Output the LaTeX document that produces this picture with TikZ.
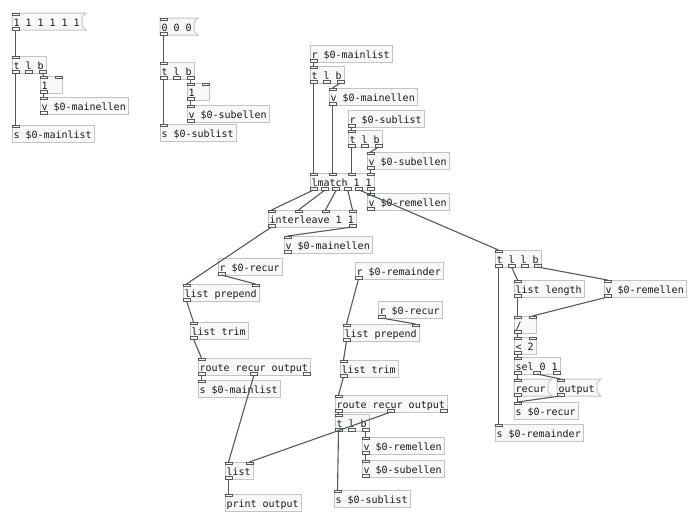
\documentclass[tikz,border=0pt]{standalone}
\usepackage{fontspec}
\newfontfamily\pdfont[WordSpace={1,0,0}]{DejaVu Sans Mono}
\definecolor{boxline}{RGB}{196,196,196}
\definecolor{boxfill}{RGB}{247,248,247}
\definecolor{wire}{RGB}{82,92,82}

\tikzset{
  pdbox/.style={draw=boxline, fill=boxfill, line width=1pt, rectangle, anchor=north west,
    inner xsep=1.5pt, inner ysep=0pt, outer sep=0pt, minimum height=17pt,
    text height=10pt, text depth=0pt, align=left, text=black!90,
    font=\pdfont\fontsize{10pt}{12pt}\selectfont},
  pdport/.style={draw=wire, fill=boxfill, line width=0.8pt},
  pdwire/.style={draw=wire, line width=1.1pt}
}

% inlets and outlets: name, x, y, width, inlets, outlets
\newcommand{\pdports}[6]{%
  \ifnum#5>0
    \foreach \k in {1,...,#5}{
      \pgfmathsetmacro{\px}{#2+(\k-1)*(#4-7)/max(#5-1,1)}
      \draw[pdport] (\px,#3) rectangle ++(7,2.5);
      \coordinate (#1-i\k) at (\px+3.5,#3);
    }
  \fi
  \ifnum#6>0
    \foreach \k in {1,...,#6}{
      \pgfmathsetmacro{\px}{#2+(\k-1)*(#4-7)/max(#6-1,1)}
      \draw[pdport] (\px,#3+14.5) rectangle ++(7,2.5);
      \coordinate (#1-o\k) at (\px+3.5,#3+17);
    }
  \fi
}
% object box: name, x, y, width, text, inlets, outlets
\newcommand{\pdobj}[7]{%
  \pgfmathsetmacro{\tw}{#4-3}
  \node[pdbox, text width=\tw pt] (#1) at (#2,#3) {\spaceskip=0pt\xspaceskip=0pt\relax#5};
  \pdports{#1}{#2}{#3}{#4}{#6}{#7}
}
% message box: name, x, y, width, text
\newcommand{\pdmsg}[5]{%
  \draw[draw=boxline, fill=boxfill, line width=1pt] (#2,#3) -- (#2+#4+4,#3) -- (#2+#4,#3+4)
    -- (#2+#4,#3+13) -- (#2+#4+4,#3+17) -- (#2,#3+17) -- cycle;
  \pgfmathsetmacro{\tw}{#4-3}
  \node[pdbox, draw=none, fill=none, text width=\tw pt] (#1) at (#2,#3) {\spaceskip=0pt\xspaceskip=0pt\relax#5};
  \pdports{#1}{#2}{#3}{#4}{1}{1}
}

\begin{document}
\begin{tikzpicture}[x=1pt, y=-1pt]
    \useasboundingbox[fill=white] (0,0) rectangle (695,517);

    % main list
    \pdmsg{mainmsg}{12}{13}{70}{1 1 1 1 1 1}
    \pdobj{maintrig}{12}{56}{34}{t l b}{1}{3}
    \pdobj{mainone}{40}{76}{22}{1}{2}{1}
    \pdobj{mainlen}{40}{97}{88}{v \$0-mainellen}{1}{1}
    \pdobj{mainsend}{12}{125}{82}{s \$0-mainlist}{1}{0}

    % sub list
    \pdmsg{submsg}{160}{18}{34}{0 0 0}
    \pdobj{subtrig}{160}{62}{34}{t l b}{1}{3}
    \pdobj{subone}{187}{83}{22}{1}{2}{1}
    \pdobj{sublen}{187}{105}{82}{v \$0-subellen}{1}{1}
    \pdobj{subsend}{160}{124}{76}{s \$0-sublist}{1}{0}

    % matching
    \pdobj{mainrecv}{310}{45}{82}{r \$0-mainlist}{0}{1}
    \pdobj{maintrigb}{310}{66}{34}{t l b}{1}{3}
    \pdobj{mainlenb}{329}{88}{88}{v \$0-mainellen}{1}{1}
    \pdobj{subrecv}{348}{110}{76}{r \$0-sublist}{0}{1}
    \pdobj{subtrigb}{348}{130}{34}{t l b}{1}{3}
    \pdobj{sublenb}{367}{152}{82}{v \$0-subellen}{1}{1}
    \pdobj{lmatch}{310}{173}{64}{lmatch 1 1}{4}{6}
    \pdobj{remlen}{367}{193}{82}{v \$0-remellen}{1}{1}
    \pdobj{inter}{268}{210}{88}{interleave 1 1}{4}{2}
    \pdobj{mainlenc}{284}{236}{88}{v \$0-mainellen}{1}{1}

    % recursion on the main list
    \pdobj{recurrecv}{218}{258}{64}{r \$0-recur}{0}{1}
    \pdobj{prepend}{183}{284}{76}{list prepend}{2}{1}
    \pdobj{trim}{190}{322}{58}{list trim}{1}{1}
    \pdobj{route}{198}{358}{112}{route recur output}{1}{3}
    \pdobj{mainsendb}{198}{380}{82}{s \$0-mainlist}{1}{0}

    % recursion on the remainder
    \pdobj{remrecv}{355}{262}{88}{r \$0-remainder}{0}{1}
    \pdobj{recurrecvb}{378}{301}{64}{r \$0-recur}{0}{1}
    \pdobj{prependb}{343}{324}{76}{list prepend}{2}{1}
    \pdobj{trimb}{340}{360}{58}{list trim}{1}{1}
    \pdobj{routeb}{335}{395}{112}{route recur output}{1}{3}
    \pdobj{remtrig}{335}{414}{34}{t l b}{1}{3}
    \pdobj{remlenb}{362}{437}{82}{v \$0-remellen}{1}{1}
    \pdobj{sublenc}{362}{460}{82}{v \$0-subellen}{1}{1}
    \pdobj{outlist}{225}{462}{28}{list}{2}{1}
    \pdobj{print}{225}{494}{76}{print output}{1}{0}
    \pdobj{subsendb}{334}{490}{76}{s \$0-sublist}{1}{0}

    % test of the rest
    \pdobj{resttrig}{495}{250}{46}{t l l b}{1}{4}
    \pdobj{restlen}{514}{280}{70}{list length}{1}{1}
    \pdobj{remlenc}{604}{280}{82}{v \$0-remellen}{1}{1}
    \pdobj{ratio}{514}{316}{22}{/}{2}{1}
    \pdobj{less}{514}{337}{22}{< 2}{2}{1}
    \pdobj{sel}{514}{357}{46}{sel 0 1}{1}{3}
    \pdmsg{recurmsg}{514}{379}{34}{recur}
    \pdmsg{outmsg}{557}{379}{40}{output}
    \pdobj{recursend}{514}{402}{64}{s \$0-recur}{1}{0}
    \pdobj{remsend}{495}{424}{88}{s \$0-remainder}{1}{0}

    % connections
    \draw[pdwire] (mainmsg-o1) -- (maintrig-i1);
    \draw[pdwire] (maintrig-o1) -- (mainsend-i1);
    \draw[pdwire] (maintrig-o3) -- (mainone-i1);
    \draw[pdwire] (mainone-o1) -- (mainlen-i1);

    \draw[pdwire] (submsg-o1) -- (subtrig-i1);
    \draw[pdwire] (subtrig-o1) -- (subsend-i1);
    \draw[pdwire] (subtrig-o3) -- (subone-i1);
    \draw[pdwire] (subone-o1) -- (sublen-i1);

    \draw[pdwire] (mainrecv-o1) -- (maintrigb-i1);
    \draw[pdwire] (maintrigb-o1) -- (lmatch-i1);
    \draw[pdwire] (maintrigb-o3) -- (mainlenb-i1);
    \draw[pdwire] (mainlenb-o1) -- (lmatch-i2);
    \draw[pdwire] (subrecv-o1) -- (subtrigb-i1);
    \draw[pdwire] (subtrigb-o1) -- (lmatch-i3);
    \draw[pdwire] (subtrigb-o3) -- (sublenb-i1);
    \draw[pdwire] (sublenb-o1) -- (lmatch-i4);
    \draw[pdwire] (lmatch-o1) -- (inter-i1);
    \draw[pdwire] (lmatch-o2) -- (inter-i2);
    \draw[pdwire] (lmatch-o3) -- (inter-i3);
    \draw[pdwire] (lmatch-o4) -- (inter-i4);
    \draw[pdwire] (lmatch-o6) -- (remlen-i1);
    \draw[pdwire] (inter-o2) -- (mainlenc-i1);

    \draw[pdwire] (inter-o1) -- (prepend-i1);
    \draw[pdwire] (recurrecv-o1) -- (prepend-i2);
    \draw[pdwire] (prepend-o1) -- (trim-i1);
    \draw[pdwire] (trim-o1) -- (route-i1);
    \draw[pdwire] (route-o1) -- (mainsendb-i1);
    \draw[pdwire] (route-o2) -- (outlist-i1);

    \draw[pdwire] (remrecv-o1) -- (prependb-i1);
    \draw[pdwire] (recurrecvb-o1) -- (prependb-i2);
    \draw[pdwire] (prependb-o1) -- (trimb-i1);
    \draw[pdwire] (trimb-o1) -- (routeb-i1);
    \draw[pdwire] (routeb-o1) -- (remtrig-i1);
    \draw[pdwire] (routeb-o2) -- (outlist-i2);
    \draw[pdwire] (remtrig-o1) -- (subsendb-i1);
    \draw[pdwire] (remtrig-o3) -- (remlenb-i1);
    \draw[pdwire] (remlenb-o1) -- (sublenc-i1);
    \draw[pdwire] (outlist-o1) -- (print-i1);

    \draw[pdwire] (lmatch-o5) -- (resttrig-i1);
    \draw[pdwire] (resttrig-o1) -- (remsend-i1);
    \draw[pdwire] (resttrig-o2) -- (restlen-i1);
    \draw[pdwire] (resttrig-o4) -- (remlenc-i1);
    \draw[pdwire] (restlen-o1) -- (ratio-i1);
    \draw[pdwire] (remlenc-o1) -- (ratio-i2);
    \draw[pdwire] (ratio-o1) -- (less-i1);
    \draw[pdwire] (less-o1) -- (sel-i1);
    \draw[pdwire] (sel-o1) -- (recurmsg-i1);
    \draw[pdwire] (sel-o2) -- (outmsg-i1);
    \draw[pdwire] (recurmsg-o1) -- (recursend-i1);
    \draw[pdwire] (outmsg-o1) -- (recursend-i1);
\end{tikzpicture}
\end{document}
